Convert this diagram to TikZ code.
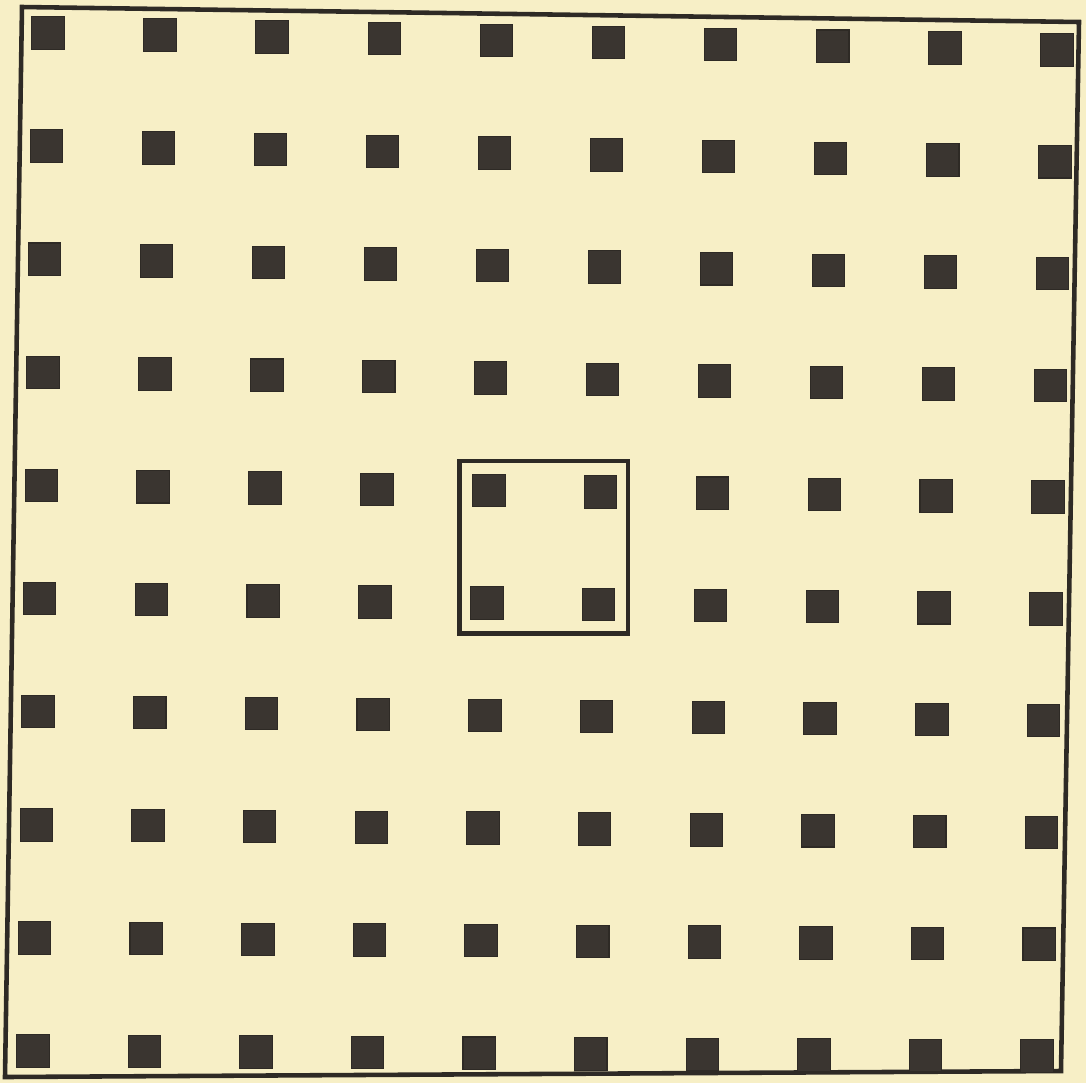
\documentclass[tikz,border=0pt]{standalone}
\usetikzlibrary{calc,fit}
\definecolor{paper}{HTML}{F7EFC6}
\definecolor{ink}{HTML}{2E2A25}
\definecolor{blot}{HTML}{3A3530}

\begin{document}
\begin{tikzpicture}[
  x=0.02cm, y=-0.02cm,
  dot/.style={fill=blot, draw=ink, line width=0.6pt, minimum size=0.65cm, inner sep=0pt},
  frame/.style={draw=ink, line width=2.6pt, line join=miter},
  cell/.style={draw=ink, line width=2.4pt, inner sep=0.25cm}
]
\fill[paper] (0,0) rectangle (1086,1083);
\useasboundingbox (0,0) rectangle (1086,1083);

% outer border (the scan is slightly skewed)
\coordinate (f-nw) at (22,7);
\coordinate (f-ne) at (1079,22);
\coordinate (f-se) at (1061,1071);
\coordinate (f-sw) at (5,1077);
\draw[frame] (f-nw) -- (f-ne) -- (f-se) -- (f-sw) -- cycle;

% centres of the four corner squares
\coordinate (tl) at (48,33);
\coordinate (tr) at (1057,50);
\coordinate (bl) at (33,1051);
\coordinate (br) at (1037,1056);

\foreach \c in {0,...,9} {
  \coordinate (top) at ($(tl)!\c/9!(tr)$);
  \coordinate (bot) at ($(bl)!\c/9!(br)$);
  \foreach \r in {0,...,9}
    \node[dot] (sq-\c-\r) at ($(top)!\r/9!(bot)$) {};
}

% the marked cell
\node[cell, fit=(sq-4-4)(sq-5-5)] (cell) {};
\end{tikzpicture}
\end{document}
